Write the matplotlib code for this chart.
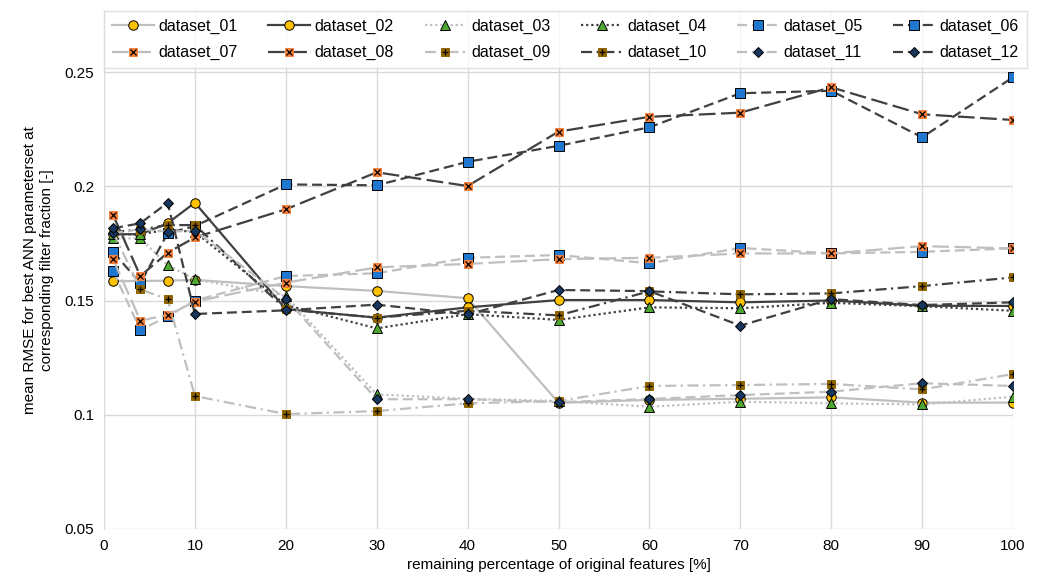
import matplotlib
matplotlib.use("Agg")
import matplotlib.pyplot as plt

plt.rcParams['font.family'] = ['Liberation Sans', 'DejaVu Sans']

x = [1, 4, 7, 10, 20, 30, 40, 50, 60, 70, 80, 90, 100]
x_ticks = [0, 10, 20, 30, 40, 50, 60, 70, 80, 90, 100]
y_ticks = [0.05, 0.1, 0.15, 0.2, 0.25]
y_tick_labels = ["0.05", "0.1", "0.15", "0.2", "0.25"]

d01 = [0.1585, 0.1585, 0.1587, 0.1590, 0.1563, 0.1542, 0.1510, 0.1052, 0.1065, 0.1070, 0.1076, 0.1053, 0.1053]
d02 = [0.1790, 0.1790, 0.1838, 0.1928, 0.1462, 0.1425, 0.1470, 0.1502, 0.1502, 0.1492, 0.1500, 0.1477, 0.1476]
d03 = [0.1772, 0.1772, 0.1655, 0.1593, 0.1520, 0.1089, 0.1070, 0.1060, 0.1035, 0.1057, 0.1050, 0.1045, 0.1079]
d04 = [0.1790, 0.1790, 0.1810, 0.1800, 0.1480, 0.1378, 0.1440, 0.1415, 0.1470, 0.1466, 0.1490, 0.1475, 0.1455]
d05 = [0.1629, 0.1371, 0.1430, 0.1500, 0.1607, 0.1619, 0.1687, 0.1699, 0.1663, 0.1730, 0.1706, 0.1713, 0.1728]
d06 = [0.1713, 0.1575, 0.1794, 0.1826, 0.2008, 0.2004, 0.2107, 0.2177, 0.2258, 0.2407, 0.2418, 0.2214, 0.2477]
d07 = [0.1681, 0.1412, 0.1437, 0.1495, 0.1578, 0.1645, 0.1660, 0.1681, 0.1687, 0.1706, 0.1706, 0.1738, 0.1728]
d08 = [0.1874, 0.1607, 0.1709, 0.1776, 0.1899, 0.2061, 0.2001, 0.2239, 0.2304, 0.2322, 0.2433, 0.2315, 0.2290]
d09 = [0.1800, 0.1549, 0.1505, 0.1082, 0.1003, 0.1016, 0.1050, 0.1060, 0.1126, 0.1130, 0.1135, 0.1111, 0.1178]
d10 = [0.1800, 0.1810, 0.1830, 0.1830, 0.1461, 0.1425, 0.1455, 0.1435, 0.1540, 0.1527, 0.1531, 0.1563, 0.1601]
d11 = [0.1794, 0.1812, 0.1801, 0.1806, 0.1507, 0.1068, 0.1068, 0.1055, 0.1069, 0.1086, 0.1101, 0.1138, 0.1126]
d12 = [0.1816, 0.1838, 0.1928, 0.1441, 0.1457, 0.1482, 0.1439, 0.1546, 0.1541, 0.1390, 0.1506, 0.1480, 0.1492]

names = ["dataset_01", "dataset_02", "dataset_03", "dataset_04", "dataset_05", "dataset_06",
         "dataset_07", "dataset_08", "dataset_09", "dataset_10", "dataset_11", "dataset_12"]
series = [d01, d02, d03, d04, d05, d06, d07, d08, d09, d10, d11, d12]

LIGHT = "#BFBFBF"
DARK = "#404040"
YEL = "#FFC000"
GRN = "#4EA72E"
BLU = "#1F77D0"
ORA = "#F7813A"
BRN = "#8F6300"
NAV = "#17375E"

DASH = (0, (4.5, 2.2))
LDASH = (0, (7.5, 2.5))
DDOT = (0, (5, 2, 1, 2))
DOT = (0, (1, 1.3))

styles = [
    dict(color=LIGHT, ls='-', marker='o', mfc=YEL),
    dict(color=DARK, ls='-', marker='o', mfc=YEL),
    dict(color=LIGHT, ls=DOT, marker='^', mfc=GRN),
    dict(color=DARK, ls=DOT, marker='^', mfc=GRN),
    dict(color=LIGHT, ls=DASH, marker='s', mfc=BLU),
    dict(color=DARK, ls=DASH, marker='s', mfc=BLU),
    dict(color=LIGHT, ls=LDASH, marker='s', mfc=ORA, over='x'),
    dict(color=DARK, ls=LDASH, marker='s', mfc=ORA, over='x'),
    dict(color=LIGHT, ls=DDOT, marker='s', mfc=BRN, over='+'),
    dict(color=DARK, ls=DDOT, marker='s', mfc=BRN, over='+'),
    dict(color=LIGHT, ls=DASH, marker='D', mfc=NAV),
    dict(color=DARK, ls=DASH, marker='D', mfc=NAV),
]

fig = plt.figure(figsize=(10.42, 5.86), dpi=100)
ax = fig.add_axes([104/1042, 1 - 529/586, (1013-104)/1042, (529-11)/586])

handles = []
for i, (y, st, nm) in enumerate(zip(series, styles, names)):
    z = 3 + i
    mk = st['marker']
    ms = {'o': 6.8, 's': 6.6, '^': 7.0, 'D': 5.5}[mk]
    over = st.get('over')
    mec = 'black' if over is None else st['mfc']
    l1, = ax.plot(x, y, color=st['color'], ls=st['ls'], lw=1.6,
                  marker=mk, ms=(6.0 if over else ms), mfc=st['mfc'], mec=mec,
                  mew=0.7, zorder=z, dash_capstyle='butt')
    if over:
        l2, = ax.plot(x, y, ls='none', marker=over, ms=4.2, mec='black', mew=0.9, zorder=z + 0.5)
        handles.append((l1, l2))
    else:
        handles.append(l1)

ax.set_xlim(0, 100)
ax.set_ylim(0.05, 0.05 + (529 - 11) * 0.2 / 457)
ax.set_xticks(x_ticks)
ax.set_yticks(y_ticks)
ax.set_yticklabels(y_tick_labels)
ax.grid(True, color="#D9D9D9", lw=1)
ax.set_axisbelow(True)
ax.tick_params(length=0, labelsize=11, colors='black', pad=7)
for s in ['top', 'right', 'bottom']:
    ax.spines[s].set_visible(False)
ax.spines['left'].set_color('#D9D9D9')

ax.set_xlabel("remaining percentage of original features [%]", fontsize=11, labelpad=4)
ax.set_ylabel("mean RMSE for best ANN parameterset at\ncorresponding filter fraction [-]", fontsize=11, labelpad=8)

# legend filled row-wise (matplotlib fills columns), 2 rows x 6 columns
ncol = 6
order = [r * ncol + c for c in range(ncol) for r in range(2)]
leg = fig.legend([handles[k] for k in order], [names[k] for k in order], ncol=ncol, loc='upper left',
                 bbox_to_anchor=(104/1042, 1 - 11/586, (1027-104)/1042, 0.0), mode='expand',
                 fontsize=11.5, frameon=True, fancybox=False, handlelength=2.6,
                 handletextpad=0.3, borderpad=0.5, labelspacing=0.7, borderaxespad=0)
leg.get_frame().set_edgecolor('#D9D9D9')
leg.get_frame().set_linewidth(1)

fig.savefig("out.png", dpi=100)
